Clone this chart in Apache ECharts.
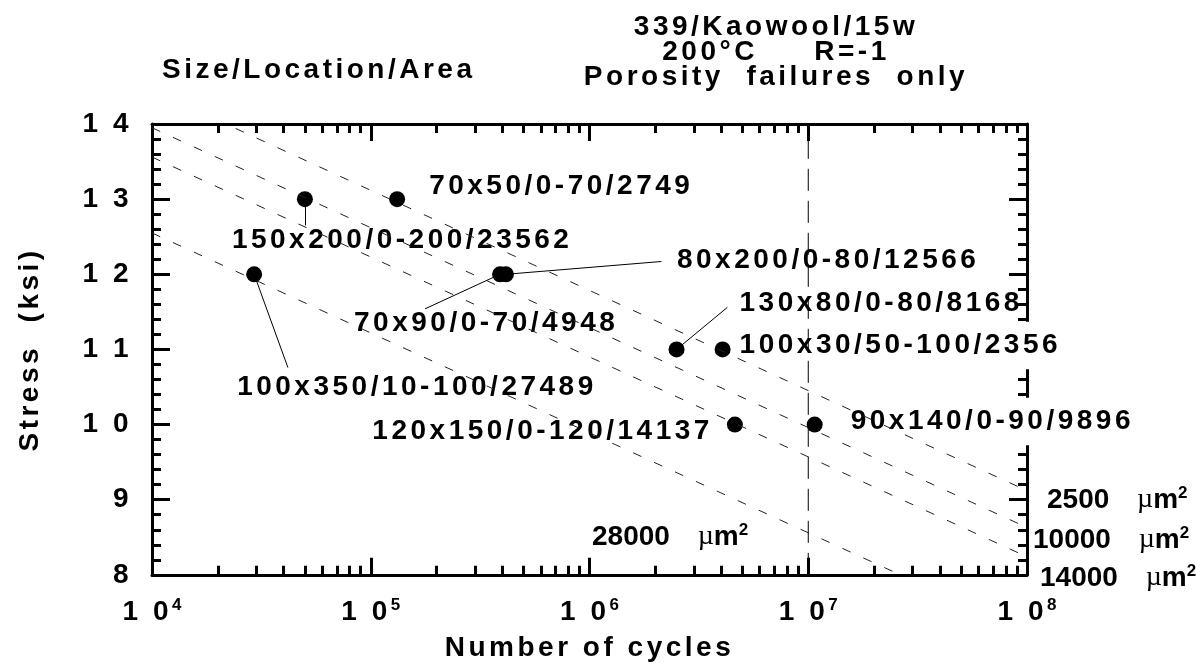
<!DOCTYPE html>
<html>
<head>
<meta charset="utf-8">
<script src="https://cdn.jsdelivr.net/npm/echarts@6/dist/echarts.min.js"></script>
<style>
html,body{margin:0;padding:0;background:#fff;}
#chart{width:1196px;height:669px;}
</style>
</head>
<body>
<div id="chart"></div>
<script>
// ---------------- data ----------------
const cycles = [5.0e4, 1.32e5, 2.93e4, 3.9e5, 4.15e5, 2.5e6, 4.06e6, 4.62e6, 1.07e7];
const stress = [13, 13, 12, 12, 12, 11, 11, 10, 10];
const pointLabels = [
  '150x200/0-200/23562', '70x50/0-70/2749', '100x350/10-100/27489',
  '70x90/0-70/4948', '80x200/0-80/12566', '130x80/0-80/8168',
  '100x30/50-100/2356', '120x150/0-120/14137', '90x140/0-90/9896'
];
// constant-area lines (stress at 1e4 cycles and at 1e8 cycles)
const areaNames = ['2500', '10000', '14000', '28000'];
const areaStressStart = [14.45, 13.95, 13.56, 12.55];
const areaStressEnd = [9.12, 8.63, 8.24, 7.23];
const areaLineCycles = [1e4, 1e8];
const runoutCycles = 1e7;
// leader lines: from point to label (data coords)
const leaderFrom = [[5.0e4, 13], [3.9e5, 12], [4.15e5, 12], [2.5e6, 11], [2.93e4, 12]];
const leaderTo = [[5.0e4, 12.65], [1.77e5, 11.54], [2.13e6, 12.17], [4.27e6, 11.56], [4.18e4, 10.76]];
const xTickExponents = ['4', '5', '6', '7', '8'];
const yTickLabels = ['8', '9', '1 0', '1 1', '1 2', '1 3', '1 4'];

// ---------------- layout (pixels, not data) ----------------
const labelOffsets = [
  [-73, 41, 'left'], [32, -13, 'left'], [-17, 113, 'left'],
  [-146, 49, 'left'], [171, -14, 'left'], [63, -46, 'left'],
  [17, -4, 'left'], [-22, 7, 'right'], [36, -3, 'left']
];
const whiteBgLabels = [6, 8];

// letter spacing helper: font family marker "lspNN" => NN/10 px spacing
(function () {
  const P = CanvasRenderingContext2D.prototype;
  const re = /lsp(\d+)/;
  function setLS(ctx) {
    const m = re.exec(ctx.font || '');
    try { ctx.letterSpacing = m ? (m[1] / 10) + 'px' : '0px'; } catch (e) {}
  }
  const ft = P.fillText, st = P.strokeText, mt = P.measureText;
  P.fillText = function () { setLS(this); return ft.apply(this, arguments); };
  P.strokeText = function () { setLS(this); return st.apply(this, arguments); };
  P.measureText = function () { setLS(this); return mt.apply(this, arguments); };
})();

const FF = 'Liberation Sans, lsp35';
const FF0 = 'Liberation Sans';
const SERIF = 'Liberation Serif';

const minorLogTicks = [];
for (let d = 4; d < 8; d++) for (let k = 2; k <= 9; k++) minorLogTicks.push(d + Math.log10(k));

const black = '#000';
const axisLine = { show: true, lineStyle: { color: black, width: 3 } };

const series = [];
areaNames.forEach((n, i) => {
  series.push({
    type: 'line', name: n + ' um2', xAxisIndex: 0, yAxisIndex: 0, z: 5,
    data: [[areaLineCycles[0], areaStressStart[i]], [areaLineCycles[1], areaStressEnd[i]]],
    symbol: 'none', clip: true, silent: true,
    lineStyle: { color: '#222', width: 1, type: [9, 14] }
  });
});
series.push({
  type: 'line', name: 'runout', xAxisIndex: 0, yAxisIndex: 0, z: 5,
  data: [[runoutCycles, 8], [runoutCycles, 14]], symbol: 'none', silent: true,
  lineStyle: { color: black, width: 1, type: [22, 10] }
});
series.push({
  type: 'lines', coordinateSystem: 'cartesian2d', xAxisIndex: 0, yAxisIndex: 0, z: 5, silent: true,
  data: leaderFrom.map((f, i) => ({ coords: [f, leaderTo[i]] })),
  lineStyle: { color: black, width: 1, opacity: 1 }
});
series.push({
  type: 'scatter', xAxisIndex: 0, yAxisIndex: 0, z: 3,
  symbol: 'circle', symbolSize: 16,
  itemStyle: { color: black, opacity: 1 },
  data: cycles.map((c, i) => {
    const item = { value: [c, stress[i]] };
    if (whiteBgLabels.includes(i)) item.label = { backgroundColor: '#fff', padding: [8, 0] };
    return item;
  }),
  label: {
    show: true, color: black, opacity: 1, fontSize: 28, fontWeight: 'bold', fontFamily: FF,
    formatter: p => pointLabels[p.dataIndex]
  },
  emphasis: { disabled: true },
  labelLayout: function (p) {
    const o = labelOffsets[p.dataIndex];
    const cx = p.rect.x + p.rect.width / 2, cy = p.rect.y + p.rect.height / 2;
    return { x: cx + o[0], y: cy + o[1], align: o[2], verticalAlign: 'middle' };
  }
});

function areaLabel(name, x, y) {
  return {
    type: 'text', x: x, y: y, z: 10,
    style: {
      text: '{n|' + name + '}{mu|µ}{m|m}{s|2}',
      align: 'left', verticalAlign: 'middle',
      rich: {
        n: { fontSize: 28, fontWeight: 'bold', fontFamily: FF0, fill: black, lineHeight: 30 },
        mu: { fontSize: 28, fontFamily: SERIF, fill: black, lineHeight: 30, padding: [0, 0, 0, 20] },
        m: { fontSize: 28, fontWeight: 'bold', fontFamily: FF0, fill: black, lineHeight: 30 },
        s: { fontSize: 17, fontWeight: 'bold', fontFamily: FF0, fill: black, lineHeight: 22, verticalAlign: 'top' }
      }
    }
  };
}
function titleText(t, x, y, align) {
  return {
    type: 'text', x: x, y: y, z: 10,
    style: { text: t, align: align || 'center', verticalAlign: 'middle',
      fontSize: 28, fontWeight: 'bold', fontFamily: FF, fill: black }
  };
}

const option = {
  animation: false,
  backgroundColor: '#fff',
  grid: { left: 152, right: 169, top: 124, bottom: 86, containLabel: false },
  xAxis: [
    {
      type: 'log', logBase: 10, min: 1e4, max: 1e8, position: 'bottom',
      axisLine: axisLine,
      axisTick: { show: true, inside: true, length: 17, lineStyle: { color: black, width: 3 } },
      minorTick: { show: false }, splitLine: { show: false },
      axisLabel: {
        margin: 22,
        formatter: v => '{b|1 0}{s|' + xTickExponents[Math.round(Math.log10(v)) - 4] + '}',
        rich: {
          b: { fontSize: 28, fontWeight: 'bold', fontFamily: FF, color: black, lineHeight: 30 },
          s: { fontSize: 17, fontWeight: 'bold', fontFamily: FF0, color: black, lineHeight: 22, verticalAlign: 'top' }
        }
      },
      name: 'Number of cycles', nameLocation: 'middle', nameGap: 56,
      nameTextStyle: { fontSize: 28, fontWeight: 'bold', fontFamily: FF, color: black }
    },
    {
      type: 'value', min: 4, max: 8, position: 'bottom',
      axisLine: { show: false }, axisLabel: { show: false }, splitLine: { show: false },
      axisTick: { show: true, inside: true, length: 9, customValues: minorLogTicks, lineStyle: { color: black, width: 3 } }
    },
    {
      type: 'value', min: 4, max: 8, interval: 1, position: 'top',
      axisLine: axisLine, axisLabel: { show: false }, splitLine: { show: false },
      axisTick: { show: true, inside: true, length: 17, lineStyle: { color: black, width: 3 } }
    },
    {
      type: 'value', min: 4, max: 8, position: 'top',
      axisLine: { show: false }, axisLabel: { show: false }, splitLine: { show: false },
      axisTick: { show: true, inside: true, length: 9, customValues: minorLogTicks, lineStyle: { color: black, width: 3 } }
    }
  ],
  yAxis: [
    {
      type: 'value', min: 8, max: 14, interval: 1, position: 'left',
      axisLine: axisLine,
      axisTick: { show: true, inside: true, length: 18, lineStyle: { color: black, width: 3 } },
      minorTick: { show: true, splitNumber: 5, length: 9, lineStyle: { color: black, width: 3 } },
      splitLine: { show: false }, minorSplitLine: { show: false },
      axisLabel: { margin: 20, formatter: v => yTickLabels[v - 8], fontSize: 28, fontWeight: 'bold', fontFamily: FF, color: black },
      name: 'Stress  (ksi)', nameLocation: 'middle', nameGap: 106, nameRotate: 90,
      nameTextStyle: { fontSize: 28, fontWeight: 'bold', fontFamily: FF, color: black }
    },
    {
      type: 'value', min: 8, max: 14, interval: 1, position: 'right',
      axisLine: axisLine,
      axisTick: { show: true, inside: true, length: 18, lineStyle: { color: black, width: 3 } },
      minorTick: { show: true, splitNumber: 5, length: 9, lineStyle: { color: black, width: 3 } },
      splitLine: { show: false }, minorSplitLine: { show: false },
      axisLabel: { show: false }
    }
  ],
  graphic: [
    titleText('339/Kaowool/15w', 776, 27),
    titleText('200°C     R=-1', 776, 52),
    titleText('Porosity  failures  only', 776, 77),
    titleText('Size/Location/Area', 162, 70, 'left'),
    areaLabel(areaNames[0] + ' ', 1047, 500),
    areaLabel(areaNames[1] + ' ', 1033, 540),
    areaLabel(areaNames[2] + ' ', 1040, 578),
    areaLabel(areaNames[3] + ' ', 592, 537)
  ],
  series: series
};

const chart = echarts.init(document.getElementById('chart'), null, { renderer: 'canvas' });
chart.setOption(option);
</script>
</body>
</html>
